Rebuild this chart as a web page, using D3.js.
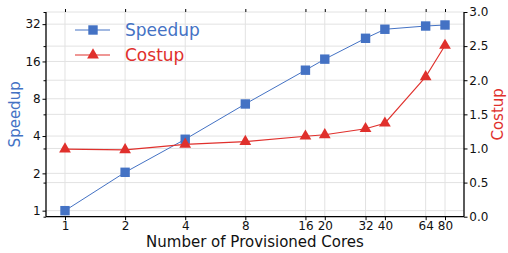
<!DOCTYPE html>
<html>
<head>
<meta charset="utf-8">
<script src="https://cdn.jsdelivr.net/npm/d3@7"></script>
<style>
  body { margin: 0; background: #fff; }
  svg { font-family: "DejaVu Sans", sans-serif; }
</style>
</head>
<body>
<svg id="chart" width="508" height="253"></svg>
<script>
// data
var cores = [1, 2, 4, 8, 16, 20, 32, 40, 64, 80];
var speedup = [1.0, 2.04, 3.77, 7.26, 13.6, 16.7, 24.6, 29.1, 30.9, 31.5];
var costup = [0.99, 0.98, 1.06, 1.10, 1.18, 1.20, 1.29, 1.37, 2.05, 2.51];
var xTicks = [1, 2, 4, 8, 16, 20, 32, 40, 64, 80];
var leftTicks = [1, 2, 4, 8, 16, 32];
var rightTicks = [0, 0.5, 1.0, 1.5, 2.0, 2.5, 3.0];

var blue = "#4472c4", red = "#e0302c";

// plot area
var pLeft = 46, pRight = 464, pTop = 12, pBottom = 216.7;

var svg = d3.select("#chart");

var x = d3.scaleLog().base(2)
  .domain([Math.pow(2, -0.316), 80 * Math.pow(2, 0.316)])
  .range([pLeft, pRight]);
var yL = d3.scaleLog().base(2)
  .domain([0.894, 40.1])
  .range([pBottom, pTop]);
var yR = d3.scaleLinear()
  .domain([0, 3])
  .range([pBottom, pTop]);

// grid lines
var grid = svg.append("g").attr("stroke", "#e2e2e2").attr("stroke-width", 1);
grid.selectAll(".gx").data(xTicks).join("line")
  .attr("x1", d => x(d)).attr("x2", d => x(d))
  .attr("y1", pTop).attr("y2", pBottom);
grid.selectAll(".gl").data(leftTicks).join("line")
  .attr("x1", pLeft).attr("x2", pRight)
  .attr("y1", d => yL(d)).attr("y2", d => yL(d));
grid.selectAll(".gr").data(rightTicks).join("line")
  .attr("x1", pLeft).attr("x2", pRight)
  .attr("y1", d => yR(d)).attr("y2", d => yR(d));

// axes
svg.append("g")
  .attr("transform", "translate(0," + pBottom + ")")
  .call(d3.axisBottom(x).tickValues(xTicks).tickFormat(d => String(d)).tickSize(3.5).tickPadding(1.5))
  .call(g => g.select(".domain").attr("d", "M" + pLeft + ",0H" + pRight).attr("stroke-width", 1.3));
svg.append("g")
  .attr("transform", "translate(0," + pTop + ")")
  .call(d3.axisTop(x).tickValues(xTicks).tickFormat("").tickSize(3))
  .call(g => g.select(".domain").remove());

svg.append("g")
  .attr("transform", "translate(" + pLeft + ",0)")
  .call(d3.axisLeft(yL).tickValues(leftTicks).tickFormat(d => String(d)).tickSize(3.5).tickPadding(1.8))
  .call(g => g.select(".domain").attr("d", "M0," + pTop + "V" + pBottom).attr("stroke-width", 1.3));
// small ticks of the twin axis showing on the left spine
svg.append("g")
  .attr("transform", "translate(" + pLeft + ",0)")
  .call(d3.axisLeft(yR).tickValues(rightTicks).tickFormat("").tickSize(2.5))
  .call(g => g.select(".domain").remove());

svg.append("g")
  .attr("transform", "translate(" + pRight + ",0)")
  .call(d3.axisRight(yR).tickValues(rightTicks).tickFormat(d3.format(".1f")).tickSize(3.5).tickPadding(1.8))
  .call(g => g.select(".domain").attr("d", "M0," + pTop + "V" + pBottom).attr("stroke-width", 1.3));

svg.selectAll(".tick text")
  .attr("font-family", "DejaVu Sans")
  .attr("font-size", 12)
  .attr("fill", "#111");

// speedup series
svg.append("path")
  .datum(d3.zip(cores, speedup))
  .attr("fill", "none")
  .attr("stroke", blue)
  .attr("stroke-width", 1)
  .attr("d", d3.line().x(d => x(d[0])).y(d => yL(d[1])));
svg.selectAll(".sq").data(d3.zip(cores, speedup)).join("rect")
  .attr("x", d => x(d[0]) - 4.7).attr("y", d => yL(d[1]) - 4.7)
  .attr("width", 9.4).attr("height", 9.4)
  .attr("fill", blue);

// costup series
svg.append("path")
  .datum(d3.zip(cores, costup))
  .attr("fill", "none")
  .attr("stroke", red)
  .attr("stroke-width", 1.1)
  .attr("d", d3.line().x(d => x(d[0])).y(d => yR(d[1])));
var tri = d3.symbol().type(d3.symbolTriangle).size(60);
svg.selectAll(".tri").data(d3.zip(cores, costup)).join("path")
  .attr("transform", d => "translate(" + x(d[0]) + "," + yR(d[1]) + ")")
  .attr("d", tri)
  .attr("fill", red);

// axis labels
svg.append("text")
  .attr("x", (pLeft + pRight) / 2).attr("y", 247)
  .attr("text-anchor", "middle")
  .attr("font-size", 15).attr("fill", "#111")
  .text("Number of Provisioned Cores");
svg.append("text")
  .attr("transform", "translate(20," + (pTop + pBottom) / 2 + ") rotate(-90)")
  .attr("text-anchor", "middle")
  .attr("font-size", 15).attr("fill", blue)
  .text("Speedup");
svg.append("text")
  .attr("transform", "translate(503," + (pTop + pBottom) / 2 + ") rotate(-90)")
  .attr("text-anchor", "middle")
  .attr("font-size", 15).attr("fill", red)
  .text("Costup");

// legend
var legend = svg.append("g");
legend.append("line").attr("x1", 75).attr("x2", 110).attr("y1", 30).attr("y2", 30)
  .attr("stroke", blue).attr("stroke-width", 1);
legend.append("rect").attr("x", 88.3).attr("y", 25.3).attr("width", 9.4).attr("height", 9.4)
  .attr("fill", blue);
legend.append("text").attr("x", 125).attr("y", 36).attr("font-size", 17).attr("fill", blue)
  .text("Speedup");
legend.append("line").attr("x1", 75).attr("x2", 110).attr("y1", 55).attr("y2", 55)
  .attr("stroke", red).attr("stroke-width", 1.1);
legend.append("path").attr("transform", "translate(93,55)").attr("d", tri).attr("fill", red);
legend.append("text").attr("x", 125).attr("y", 61).attr("font-size", 17).attr("fill", red)
  .text("Costup");
</script>
</body>
</html>
